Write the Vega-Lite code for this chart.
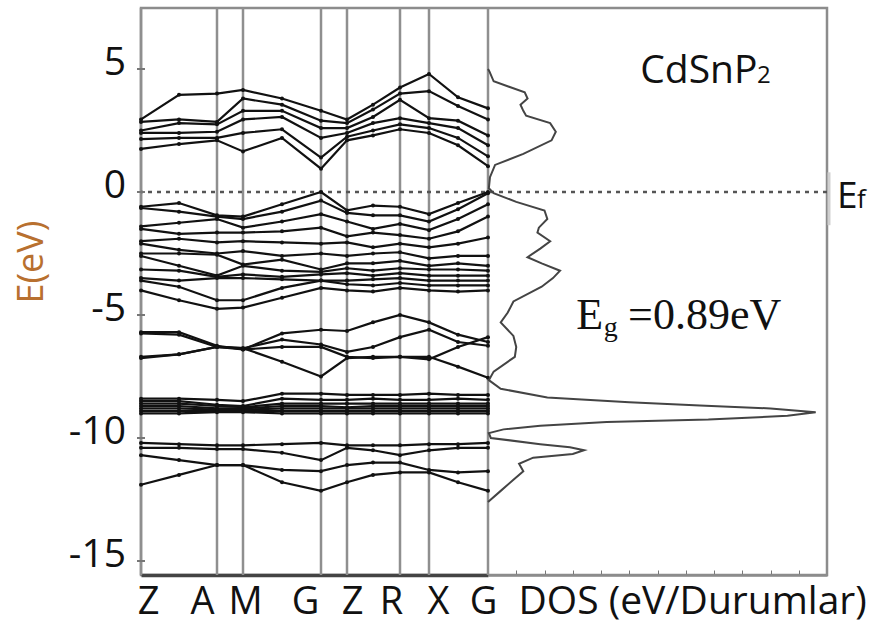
{
"$schema": "https://vega.github.io/schema/vega-lite/v6.json",
"autosize": {"type": "none"},
"padding": {"left": 141, "top": 8, "right": 49, "bottom": 55},
"background": "white",
"width": 686, "height": 567,
"config": {"font": "Open Sans", "view": {"stroke": "#8c8c8c", "strokeWidth": 2.5}, "axis": {"grid": false}},
"resolve": {"scale": {"x": "independent"}, "axis": {"x": "independent"}},
"datasets": {
"sym": [{"k":0},{"k":76},{"k":102},{"k":180},{"k":206},{"k":259},{"k":288},{"k":347}],
"yticks": [{"v":5,"t":"5"},{"v":0,"t":"0"},{"v":-5,"t":"-5"},{"v":-10,"t":"-10"},{"v":-15,"t":"-15"}],
"bands": [
{"b":"c1","k":0,"e":1.75},{"b":"c1","k":38,"e":1.95},{"b":"c1","k":76,"e":2.1},{"b":"c1","k":102,"e":1.65},{"b":"c1","k":141,"e":2.2},{"b":"c1","k":180,"e":0.95},{"b":"c1","k":206,"e":2.1},{"b":"c1","k":232,"e":2.3},{"b":"c1","k":259,"e":2.55},{"b":"c1","k":288,"e":2.4},{"b":"c1","k":317,"e":1.9},{"b":"c1","k":347,"e":1.05},
{"b":"c2","k":0,"e":2.15},{"b":"c2","k":38,"e":2.2},{"b":"c2","k":76,"e":2.2},{"b":"c2","k":102,"e":2.4},{"b":"c2","k":141,"e":2.55},{"b":"c2","k":180,"e":1.4},{"b":"c2","k":206,"e":2.25},{"b":"c2","k":232,"e":2.5},{"b":"c2","k":259,"e":2.75},{"b":"c2","k":288,"e":2.6},{"b":"c2","k":317,"e":2.2},{"b":"c2","k":347,"e":1.45},
{"b":"c3","k":0,"e":2.4},{"b":"c3","k":38,"e":2.4},{"b":"c3","k":76,"e":2.45},{"b":"c3","k":102,"e":2.95},{"b":"c3","k":141,"e":3.05},{"b":"c3","k":180,"e":2.2},{"b":"c3","k":206,"e":2.4},{"b":"c3","k":232,"e":2.8},{"b":"c3","k":259,"e":3.0},{"b":"c3","k":288,"e":2.8},{"b":"c3","k":317,"e":2.6},{"b":"c3","k":347,"e":1.9},
{"b":"c4","k":0,"e":2.5},{"b":"c4","k":38,"e":2.8},{"b":"c4","k":76,"e":2.75},{"b":"c4","k":102,"e":3.3},{"b":"c4","k":141,"e":3.3},{"b":"c4","k":180,"e":2.6},{"b":"c4","k":206,"e":2.6},{"b":"c4","k":232,"e":3.05},{"b":"c4","k":259,"e":3.75},{"b":"c4","k":288,"e":3.0},{"b":"c4","k":317,"e":2.9},{"b":"c4","k":347,"e":2.3},
{"b":"c5","k":0,"e":2.85},{"b":"c5","k":38,"e":2.95},{"b":"c5","k":76,"e":2.85},{"b":"c5","k":102,"e":3.8},{"b":"c5","k":141,"e":3.55},{"b":"c5","k":180,"e":2.9},{"b":"c5","k":206,"e":2.8},{"b":"c5","k":232,"e":3.35},{"b":"c5","k":259,"e":4.0},{"b":"c5","k":288,"e":4.1},{"b":"c5","k":317,"e":3.5},{"b":"c5","k":347,"e":2.95},
{"b":"c6","k":0,"e":2.95},{"b":"c6","k":38,"e":3.95},{"b":"c6","k":76,"e":4.0},{"b":"c6","k":102,"e":4.15},{"b":"c6","k":141,"e":3.8},{"b":"c6","k":180,"e":3.3},{"b":"c6","k":206,"e":2.95},{"b":"c6","k":232,"e":3.55},{"b":"c6","k":259,"e":4.25},{"b":"c6","k":288,"e":4.8},{"b":"c6","k":317,"e":3.85},{"b":"c6","k":347,"e":3.4},
{"b":"v1","k":0,"e":-0.6},{"b":"v1","k":38,"e":-0.45},{"b":"v1","k":76,"e":-0.95},{"b":"v1","k":102,"e":-1.0},{"b":"v1","k":141,"e":-0.5},{"b":"v1","k":180,"e":0.0},{"b":"v1","k":206,"e":-0.75},{"b":"v1","k":232,"e":-0.55},{"b":"v1","k":259,"e":-0.6},{"b":"v1","k":288,"e":-0.9},{"b":"v1","k":317,"e":-0.45},{"b":"v1","k":347,"e":0.0},
{"b":"v2","k":0,"e":-0.65},{"b":"v2","k":38,"e":-0.8},{"b":"v2","k":76,"e":-1.0},{"b":"v2","k":102,"e":-1.1},{"b":"v2","k":141,"e":-0.8},{"b":"v2","k":180,"e":-0.35},{"b":"v2","k":206,"e":-0.85},{"b":"v2","k":232,"e":-0.95},{"b":"v2","k":259,"e":-0.95},{"b":"v2","k":288,"e":-1.2},{"b":"v2","k":317,"e":-0.7},{"b":"v2","k":347,"e":-0.05},
{"b":"v3","k":0,"e":-1.4},{"b":"v3","k":38,"e":-1.25},{"b":"v3","k":76,"e":-1.1},{"b":"v3","k":102,"e":-1.45},{"b":"v3","k":141,"e":-1.2},{"b":"v3","k":180,"e":-0.9},{"b":"v3","k":206,"e":-1.2},{"b":"v3","k":232,"e":-1.5},{"b":"v3","k":259,"e":-1.3},{"b":"v3","k":288,"e":-1.55},{"b":"v3","k":317,"e":-1.1},{"b":"v3","k":347,"e":-0.5},
{"b":"v4","k":0,"e":-1.5},{"b":"v4","k":38,"e":-1.7},{"b":"v4","k":76,"e":-1.65},{"b":"v4","k":102,"e":-1.65},{"b":"v4","k":141,"e":-1.6},{"b":"v4","k":180,"e":-1.45},{"b":"v4","k":206,"e":-1.8},{"b":"v4","k":232,"e":-1.65},{"b":"v4","k":259,"e":-1.75},{"b":"v4","k":288,"e":-1.9},{"b":"v4","k":317,"e":-1.6},{"b":"v4","k":347,"e":-1.0},
{"b":"v5","k":0,"e":-2.0},{"b":"v5","k":38,"e":-1.9},{"b":"v5","k":76,"e":-2.05},{"b":"v5","k":102,"e":-2.0},{"b":"v5","k":141,"e":-2.05},{"b":"v5","k":180,"e":-2.1},{"b":"v5","k":206,"e":-2.05},{"b":"v5","k":232,"e":-2.25},{"b":"v5","k":259,"e":-2.1},{"b":"v5","k":288,"e":-2.25},{"b":"v5","k":317,"e":-2.1},{"b":"v5","k":347,"e":-1.85},
{"b":"v6","k":0,"e":-2.1},{"b":"v6","k":38,"e":-2.35},{"b":"v6","k":76,"e":-2.5},{"b":"v6","k":102,"e":-2.4},{"b":"v6","k":141,"e":-2.6},{"b":"v6","k":180,"e":-2.5},{"b":"v6","k":206,"e":-2.6},{"b":"v6","k":232,"e":-2.5},{"b":"v6","k":259,"e":-2.45},{"b":"v6","k":288,"e":-2.7},{"b":"v6","k":317,"e":-2.6},{"b":"v6","k":347,"e":-2.6},
{"b":"v7","k":0,"e":-2.5},{"b":"v7","k":38,"e":-2.5},{"b":"v7","k":76,"e":-2.55},{"b":"v7","k":102,"e":-2.95},{"b":"v7","k":141,"e":-2.75},{"b":"v7","k":180,"e":-3.15},{"b":"v7","k":206,"e":-2.9},{"b":"v7","k":232,"e":-2.9},{"b":"v7","k":259,"e":-2.8},{"b":"v7","k":288,"e":-3.0},{"b":"v7","k":317,"e":-2.9},{"b":"v7","k":347,"e":-3.0},
{"b":"v8","k":0,"e":-2.6},{"b":"v8","k":38,"e":-3.0},{"b":"v8","k":76,"e":-3.4},{"b":"v8","k":102,"e":-3.0},{"b":"v8","k":141,"e":-3.2},{"b":"v8","k":180,"e":-3.25},{"b":"v8","k":206,"e":-3.1},{"b":"v8","k":232,"e":-3.2},{"b":"v8","k":259,"e":-3.1},{"b":"v8","k":288,"e":-3.15},{"b":"v8","k":317,"e":-3.15},{"b":"v8","k":347,"e":-3.2},
{"b":"v9","k":0,"e":-3.15},{"b":"v9","k":38,"e":-3.2},{"b":"v9","k":76,"e":-3.45},{"b":"v9","k":102,"e":-3.35},{"b":"v9","k":141,"e":-3.45},{"b":"v9","k":180,"e":-3.35},{"b":"v9","k":206,"e":-3.3},{"b":"v9","k":232,"e":-3.4},{"b":"v9","k":259,"e":-3.3},{"b":"v9","k":288,"e":-3.4},{"b":"v9","k":317,"e":-3.4},{"b":"v9","k":347,"e":-3.4},
{"b":"v10","k":0,"e":-3.5},{"b":"v10","k":38,"e":-3.6},{"b":"v10","k":76,"e":-3.5},{"b":"v10","k":102,"e":-3.5},{"b":"v10","k":141,"e":-3.55},{"b":"v10","k":180,"e":-3.6},{"b":"v10","k":206,"e":-3.6},{"b":"v10","k":232,"e":-3.55},{"b":"v10","k":259,"e":-3.5},{"b":"v10","k":288,"e":-3.6},{"b":"v10","k":317,"e":-3.6},{"b":"v10","k":347,"e":-3.6},
{"b":"v11","k":0,"e":-3.6},{"b":"v11","k":38,"e":-3.85},{"b":"v11","k":76,"e":-4.4},{"b":"v11","k":102,"e":-4.4},{"b":"v11","k":141,"e":-3.9},{"b":"v11","k":180,"e":-3.6},{"b":"v11","k":206,"e":-3.75},{"b":"v11","k":232,"e":-3.8},{"b":"v11","k":259,"e":-3.7},{"b":"v11","k":288,"e":-3.8},{"b":"v11","k":317,"e":-3.8},{"b":"v11","k":347,"e":-3.8},
{"b":"v12","k":0,"e":-4.0},{"b":"v12","k":38,"e":-4.4},{"b":"v12","k":76,"e":-4.75},{"b":"v12","k":102,"e":-4.7},{"b":"v12","k":141,"e":-4.3},{"b":"v12","k":180,"e":-3.9},{"b":"v12","k":206,"e":-4.0},{"b":"v12","k":232,"e":-4.05},{"b":"v12","k":259,"e":-3.9},{"b":"v12","k":288,"e":-4.0},{"b":"v12","k":317,"e":-4.05},{"b":"v12","k":347,"e":-4.0},
{"b":"b1","k":0,"e":-5.7},{"b":"b1","k":38,"e":-5.7},{"b":"b1","k":76,"e":-6.25},{"b":"b1","k":102,"e":-6.4},{"b":"b1","k":141,"e":-5.75},{"b":"b1","k":180,"e":-5.6},{"b":"b1","k":206,"e":-5.65},{"b":"b1","k":232,"e":-5.3},{"b":"b1","k":259,"e":-5.0},{"b":"b1","k":288,"e":-5.3},{"b":"b1","k":317,"e":-5.8},{"b":"b1","k":347,"e":-6.1},
{"b":"b2","k":0,"e":-6.7},{"b":"b2","k":38,"e":-6.6},{"b":"b2","k":76,"e":-6.3},{"b":"b2","k":102,"e":-6.35},{"b":"b2","k":141,"e":-6.9},{"b":"b2","k":180,"e":-7.5},{"b":"b2","k":206,"e":-6.75},{"b":"b2","k":232,"e":-6.7},{"b":"b2","k":259,"e":-6.7},{"b":"b2","k":288,"e":-6.7},{"b":"b2","k":317,"e":-7.1},{"b":"b2","k":347,"e":-7.55},
{"b":"b3","k":0,"e":-5.75},{"b":"b3","k":38,"e":-5.8},{"b":"b3","k":76,"e":-6.3},{"b":"b3","k":102,"e":-6.35},{"b":"b3","k":141,"e":-6.0},{"b":"b3","k":180,"e":-6.2},{"b":"b3","k":206,"e":-6.5},{"b":"b3","k":232,"e":-6.3},{"b":"b3","k":259,"e":-5.9},{"b":"b3","k":288,"e":-5.6},{"b":"b3","k":317,"e":-6.1},{"b":"b3","k":347,"e":-6.25},
{"b":"b4","k":0,"e":-6.75},{"b":"b4","k":38,"e":-6.6},{"b":"b4","k":76,"e":-6.3},{"b":"b4","k":102,"e":-6.4},{"b":"b4","k":141,"e":-6.3},{"b":"b4","k":180,"e":-6.3},{"b":"b4","k":206,"e":-6.7},{"b":"b4","k":232,"e":-6.75},{"b":"b4","k":259,"e":-6.7},{"b":"b4","k":288,"e":-6.8},{"b":"b4","k":317,"e":-6.3},{"b":"b4","k":347,"e":-5.9},
{"b":"d1","k":0,"e":-8.4},{"b":"d1","k":38,"e":-8.4},{"b":"d1","k":76,"e":-8.45},{"b":"d1","k":102,"e":-8.5},{"b":"d1","k":141,"e":-8.2},{"b":"d1","k":180,"e":-8.2},{"b":"d1","k":206,"e":-8.25},{"b":"d1","k":232,"e":-8.25},{"b":"d1","k":259,"e":-8.25},{"b":"d1","k":288,"e":-8.2},{"b":"d1","k":317,"e":-8.25},{"b":"d1","k":347,"e":-8.25},
{"b":"d2","k":0,"e":-8.5},{"b":"d2","k":38,"e":-8.5},{"b":"d2","k":76,"e":-8.65},{"b":"d2","k":102,"e":-8.7},{"b":"d2","k":141,"e":-8.4},{"b":"d2","k":180,"e":-8.45},{"b":"d2","k":206,"e":-8.45},{"b":"d2","k":232,"e":-8.4},{"b":"d2","k":259,"e":-8.45},{"b":"d2","k":288,"e":-8.45},{"b":"d2","k":317,"e":-8.4},{"b":"d2","k":347,"e":-8.45},
{"b":"d3","k":0,"e":-8.6},{"b":"d3","k":38,"e":-8.6},{"b":"d3","k":76,"e":-8.7},{"b":"d3","k":102,"e":-8.75},{"b":"d3","k":141,"e":-8.6},{"b":"d3","k":180,"e":-8.6},{"b":"d3","k":206,"e":-8.6},{"b":"d3","k":232,"e":-8.6},{"b":"d3","k":259,"e":-8.6},{"b":"d3","k":288,"e":-8.6},{"b":"d3","k":317,"e":-8.6},{"b":"d3","k":347,"e":-8.6},
{"b":"d4","k":0,"e":-8.7},{"b":"d4","k":38,"e":-8.7},{"b":"d4","k":76,"e":-8.8},{"b":"d4","k":102,"e":-8.8},{"b":"d4","k":141,"e":-8.7},{"b":"d4","k":180,"e":-8.7},{"b":"d4","k":206,"e":-8.75},{"b":"d4","k":232,"e":-8.7},{"b":"d4","k":259,"e":-8.7},{"b":"d4","k":288,"e":-8.7},{"b":"d4","k":317,"e":-8.7},{"b":"d4","k":347,"e":-8.7},
{"b":"d5","k":0,"e":-8.8},{"b":"d5","k":38,"e":-8.8},{"b":"d5","k":76,"e":-8.85},{"b":"d5","k":102,"e":-8.85},{"b":"d5","k":141,"e":-8.8},{"b":"d5","k":180,"e":-8.8},{"b":"d5","k":206,"e":-8.8},{"b":"d5","k":232,"e":-8.8},{"b":"d5","k":259,"e":-8.8},{"b":"d5","k":288,"e":-8.8},{"b":"d5","k":317,"e":-8.8},{"b":"d5","k":347,"e":-8.8},
{"b":"d6","k":0,"e":-8.9},{"b":"d6","k":38,"e":-8.9},{"b":"d6","k":76,"e":-8.9},{"b":"d6","k":102,"e":-8.9},{"b":"d6","k":141,"e":-8.9},{"b":"d6","k":180,"e":-8.9},{"b":"d6","k":206,"e":-8.9},{"b":"d6","k":232,"e":-8.9},{"b":"d6","k":259,"e":-8.9},{"b":"d6","k":288,"e":-8.9},{"b":"d6","k":317,"e":-8.9},{"b":"d6","k":347,"e":-8.9},
{"b":"d7","k":0,"e":-9.0},{"b":"d7","k":38,"e":-9.0},{"b":"d7","k":76,"e":-8.95},{"b":"d7","k":102,"e":-8.95},{"b":"d7","k":141,"e":-9.0},{"b":"d7","k":180,"e":-9.0},{"b":"d7","k":206,"e":-9.0},{"b":"d7","k":232,"e":-9.0},{"b":"d7","k":259,"e":-9.0},{"b":"d7","k":288,"e":-9.0},{"b":"d7","k":317,"e":-9.0},{"b":"d7","k":347,"e":-9.0},
{"b":"e1","k":0,"e":-10.2},{"b":"e1","k":38,"e":-10.25},{"b":"e1","k":76,"e":-10.3},{"b":"e1","k":102,"e":-10.3},{"b":"e1","k":141,"e":-10.25},{"b":"e1","k":180,"e":-10.2},{"b":"e1","k":206,"e":-10.3},{"b":"e1","k":232,"e":-10.3},{"b":"e1","k":259,"e":-10.3},{"b":"e1","k":288,"e":-10.25},{"b":"e1","k":317,"e":-10.25},{"b":"e1","k":347,"e":-10.2},
{"b":"e2","k":0,"e":-10.4},{"b":"e2","k":38,"e":-10.4},{"b":"e2","k":76,"e":-10.45},{"b":"e2","k":102,"e":-10.45},{"b":"e2","k":141,"e":-10.6},{"b":"e2","k":180,"e":-10.9},{"b":"e2","k":206,"e":-10.4},{"b":"e2","k":232,"e":-10.5},{"b":"e2","k":259,"e":-10.7},{"b":"e2","k":288,"e":-10.5},{"b":"e2","k":317,"e":-10.4},{"b":"e2","k":347,"e":-10.4},
{"b":"e3","k":0,"e":-10.7},{"b":"e3","k":38,"e":-10.9},{"b":"e3","k":76,"e":-11.1},{"b":"e3","k":102,"e":-11.1},{"b":"e3","k":141,"e":-11.3},{"b":"e3","k":180,"e":-11.35},{"b":"e3","k":206,"e":-11.1},{"b":"e3","k":232,"e":-11.0},{"b":"e3","k":259,"e":-11.0},{"b":"e3","k":288,"e":-11.3},{"b":"e3","k":317,"e":-11.4},{"b":"e3","k":347,"e":-11.35},
{"b":"e4","k":0,"e":-11.9},{"b":"e4","k":38,"e":-11.5},{"b":"e4","k":76,"e":-11.1},{"b":"e4","k":102,"e":-11.1},{"b":"e4","k":141,"e":-11.8},{"b":"e4","k":180,"e":-12.15},{"b":"e4","k":206,"e":-11.8},{"b":"e4","k":232,"e":-11.5},{"b":"e4","k":259,"e":-11.4},{"b":"e4","k":288,"e":-11.4},{"b":"e4","k":317,"e":-11.8},{"b":"e4","k":347,"e":-12.15}
],
"dos": [
{"e":5.0,"d":0},{"e":4.9,"d":0.05},{"e":4.5,"d":0.2},{"e":4.05,"d":1.3},{"e":3.8,"d":1.4},{"e":3.55,"d":1.15},{"e":3.3,"d":1.25},{"e":3.1,"d":1.35},{"e":2.8,"d":2.2},{"e":2.45,"d":2.4},{"e":2.1,"d":2.25},{"e":1.55,"d":1.25},{"e":1.1,"d":0.25},{"e":0.6,"d":0.07},{"e":0.15,"d":0.03},{"e":-0.05,"d":0.2},{"e":-0.4,"d":1.0},{"e":-0.75,"d":2.0},{"e":-1.1,"d":2.1},{"e":-1.45,"d":1.8},{"e":-1.65,"d":1.75},{"e":-2.0,"d":2.2},{"e":-2.3,"d":1.85},{"e":-2.65,"d":1.4},{"e":-2.9,"d":1.9},{"e":-3.2,"d":2.55},{"e":-3.5,"d":2.3},{"e":-3.85,"d":1.9},{"e":-4.45,"d":0.9},{"e":-4.9,"d":0.7},{"e":-5.3,"d":0.45},{"e":-5.85,"d":0.9},{"e":-6.3,"d":1.0},{"e":-6.7,"d":0.95},{"e":-7.3,"d":0.2},{"e":-7.65,"d":0.03},{"e":-8.0,"d":0.45},{"e":-8.35,"d":2.1},{"e":-8.55,"d":5.0},{"e":-8.68,"d":7.5},{"e":-8.8,"d":10.0},{"e":-8.95,"d":11.6},{"e":-9.1,"d":10.6},{"e":-9.25,"d":7.8},{"e":-9.35,"d":4.2},{"e":-9.5,"d":1.85},{"e":-9.65,"d":0.55},{"e":-9.8,"d":0.03},{"e":-10.0,"d":0.1},{"e":-10.25,"d":1.85},{"e":-10.38,"d":2.9},{"e":-10.5,"d":3.4},{"e":-10.65,"d":3.0},{"e":-10.8,"d":1.6},{"e":-11.05,"d":1.1},{"e":-11.35,"d":1.25},{"e":-11.7,"d":0.9},{"e":-12.15,"d":0.45},{"e":-12.6,"d":0}
]
},
"layer": [
{"data": {"name": "sym"}, "mark": {"type": "rule", "color": "#8f8f8f", "strokeWidth": 2.5},
 "encoding": {"x": {"field": "k", "type": "quantitative", "scale": {"domain": [0, 347], "range": [0, 347], "nice": false, "zero": false}, "axis": null}}},
{"data": {"values": [{}]}, "mark": {"type": "rule", "color": "#555555", "strokeWidth": 2.5, "strokeDash": [4, 5]},
 "encoding": {"y": {"datum": 0, "type": "quantitative", "scale": {"domain": [-15.57, 7.48], "nice": false, "zero": false}, "axis": null}}},
{"data": {"name": "yticks"}, "mark": {"type": "rule", "color": "#777777", "strokeWidth": 2},
 "encoding": {"x": {"datum": -4, "type": "quantitative", "scale": {"domain": [0, 347], "range": [0, 347], "nice": false, "zero": false}, "axis": null}, "x2": {"datum": 4}, "y": {"field": "v", "type": "quantitative", "axis": null}}},
{"data": {"name": "yticks"}, "mark": {"type": "text", "font": "Open Sans", "fontSize": 39, "align": "right", "baseline": "middle", "dy": -6, "color": "#111111"},
 "encoding": {"x": {"datum": -15, "type": "quantitative", "scale": {"domain": [0, 347], "range": [0, 347], "nice": false, "zero": false}, "axis": null}, "y": {"field": "v", "type": "quantitative", "axis": null}, "text": {"field": "t", "type": "nominal"}}},
{"data": {"name": "bands"},
 "mark": {"type": "line", "color": "#111111", "strokeWidth": 2.2, "point": {"filled": true, "size": 16, "color": "#111111"}},
 "encoding": {
  "x": {"field": "k", "type": "quantitative", "scale": {"domain": [0, 347], "range": [0, 347], "nice": false, "zero": false},
   "axis": {"orient": "bottom", "values": [7, 61, 104, 164, 211, 250, 297, 342], "labelExpr": "datum.value < 30 ? 'Z' : datum.value < 80 ? 'A' : datum.value < 130 ? 'M' : datum.value < 190 ? 'G' : datum.value < 230 ? 'Z' : datum.value < 270 ? 'R' : datum.value < 320 ? 'X' : 'G'",
    "title": null, "ticks": false, "tickSize": 0, "labelFontSize": 38, "labelColor": "#111111", "labelPadding": 38, "labelBaseline": "alphabetic", "labelFlush": false, "labelOverlap": false, "domainColor": "#444444", "domainWidth": 3.5}},
  "y": {"field": "e", "type": "quantitative", "axis": null},
  "detail": {"field": "b"},
  "order": {"field": "k", "type": "quantitative"}
 }},
{"data": {"values": [{}]}, "mark": {"type": "text", "text": "E(eV)", "font": "Open Sans", "fontSize": 36, "angle": 270, "align": "center", "baseline": "middle", "color": "#b8702f"},
 "encoding": {"x": {"datum": -109, "type": "quantitative", "scale": {"domain": [0, 347], "range": [0, 347], "nice": false, "zero": false}, "axis": null}, "y": {"datum": -2.85, "type": "quantitative", "axis": null}}},
{"data": {"name": "dos"}, "mark": {"type": "line", "color": "#444444", "strokeWidth": 2},
 "encoding": {
  "x": {"field": "d", "type": "quantitative", "scale": {"domain": [0, 12], "range": [347, 686], "nice": false, "zero": false},
   "axis": {"orient": "bottom", "values": [1,2,3,4,5,6,7,8,9,10,11], "labels": false, "tickSize": -5, "tickColor": "#777777", "domainColor": "#8c8c8c", "domainWidth": 2.5,
    "title": "DOS (eV/Durumlar)", "titleFontSize": 39, "titleFontWeight": "normal", "titleColor": "#111111", "titleAnchor": "start", "titleAlign": "left", "titleX": 377, "titleY": 38, "titleBaseline": "alphabetic"}},
  "y": {"field": "e", "type": "quantitative", "axis": null},
  "order": {"field": "e", "type": "quantitative", "sort": "descending"}
 }},
{"data": {"values": [{}]}, "mark": {"type": "rule", "color": "#cfcfcf", "strokeWidth": 3},
 "encoding": {"x": {"datum": 12.07, "type": "quantitative", "scale": {"domain": [0, 12], "range": [347, 686]}, "axis": null}, "y": {"datum": 0.8, "type": "quantitative", "axis": null}, "y2": {"datum": -1.35}}},
{"data": {"values": [{}]}, "mark": {"type": "text", "text": "CdSnP", "font": "Open Sans", "fontSize": 39, "align": "left", "baseline": "alphabetic", "color": "#111111"},
 "encoding": {"x": {"datum": 5.39, "type": "quantitative", "scale": {"domain": [0, 12], "range": [347, 686]}, "axis": null}, "y": {"datum": 4.43, "type": "quantitative", "axis": null}}},
{"data": {"values": [{}]}, "mark": {"type": "text", "text": "2", "font": "Open Sans", "fontSize": 24, "align": "left", "baseline": "alphabetic", "color": "#111111"},
 "encoding": {"x": {"datum": 9.52, "type": "quantitative", "scale": {"domain": [0, 12], "range": [347, 686]}, "axis": null}, "y": {"datum": 4.43, "type": "quantitative", "axis": null}}},
{"data": {"values": [{}]}, "mark": {"type": "text", "text": "E", "font": "Liberation Serif", "fontSize": 44, "align": "left", "baseline": "alphabetic", "color": "#111111"},
 "encoding": {"x": {"datum": 3.12, "type": "quantitative", "scale": {"domain": [0, 12], "range": [347, 686]}, "axis": null}, "y": {"datum": -5.57, "type": "quantitative", "axis": null}}},
{"data": {"values": [{}]}, "mark": {"type": "text", "text": "g", "font": "Liberation Serif", "fontSize": 28, "align": "left", "baseline": "alphabetic", "color": "#111111"},
 "encoding": {"x": {"datum": 4.1, "type": "quantitative", "scale": {"domain": [0, 12], "range": [347, 686]}, "axis": null}, "y": {"datum": -5.85, "type": "quantitative", "axis": null}}},
{"data": {"values": [{}]}, "mark": {"type": "text", "text": "=0.89eV", "font": "Liberation Serif", "fontSize": 44, "align": "left", "baseline": "alphabetic", "color": "#111111"},
 "encoding": {"x": {"datum": 4.96, "type": "quantitative", "scale": {"domain": [0, 12], "range": [347, 686]}, "axis": null}, "y": {"datum": -5.57, "type": "quantitative", "axis": null}}},
{"data": {"values": [{}]}, "mark": {"type": "text", "text": "E", "font": "Open Sans", "fontSize": 37, "align": "left", "baseline": "alphabetic", "color": "#111111"},
 "encoding": {"x": {"datum": 12.35, "type": "quantitative", "scale": {"domain": [0, 12], "range": [347, 686]}, "axis": null}, "y": {"datum": -0.65, "type": "quantitative", "axis": null}}},
{"data": {"values": [{}]}, "mark": {"type": "text", "text": "f", "font": "Open Sans", "fontSize": 26, "align": "left", "baseline": "alphabetic", "color": "#111111"},
 "encoding": {"x": {"datum": 13.06, "type": "quantitative", "scale": {"domain": [0, 12], "range": [347, 686]}, "axis": null}, "y": {"datum": -0.65, "type": "quantitative", "axis": null}}}
]
}
